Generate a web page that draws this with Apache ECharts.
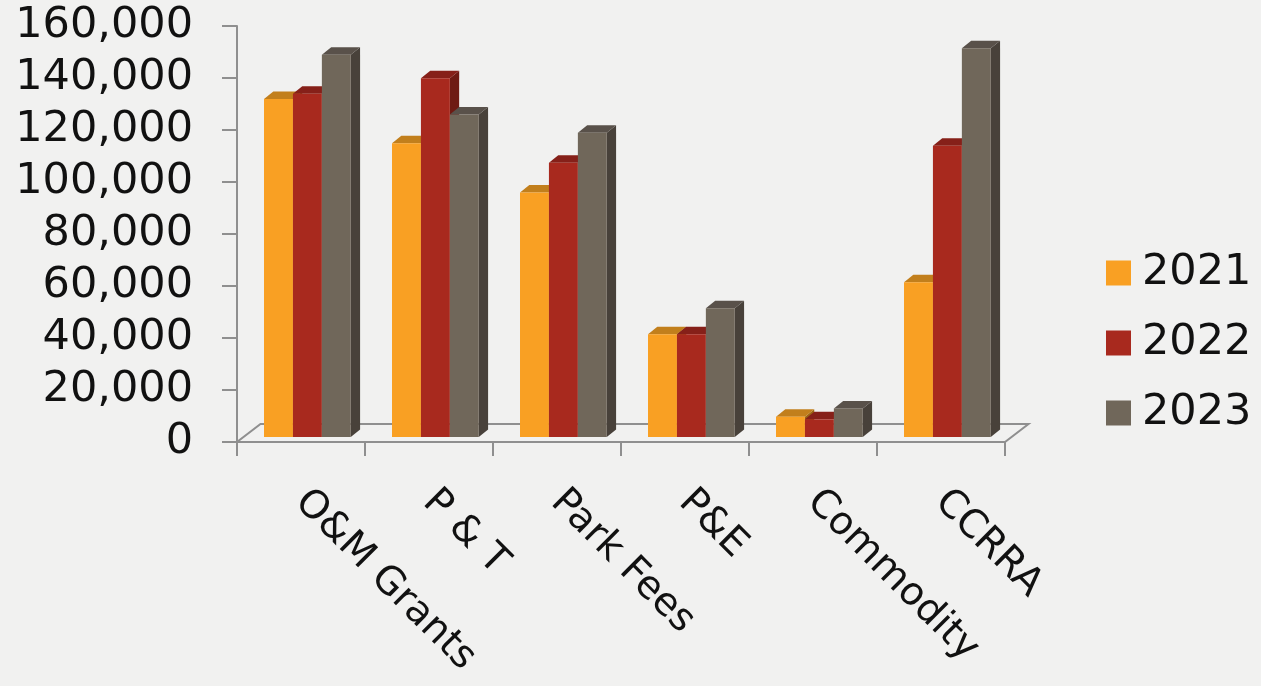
<!DOCTYPE html>
<html>
<head>
<meta charset="utf-8">
<script src="https://cdn.jsdelivr.net/npm/echarts@6/dist/echarts.min.js"></script>
<style>
  html, body { margin: 0; padding: 0; background: #f1f1f0; }
  #chart { width: 1261px; height: 686px; }
</style>
</head>
<body>
<div id="chart"></div>
<script>
// Funding sources by year
const categories = ['O&M Grants', 'P & T', 'Park Fees', 'P&E', 'Commodity', 'CCRRA'];
const years = ['2021', '2022', '2023'];
const values2021 = [130000, 113000, 94000, 39500, 7800, 59500];
const values2022 = [132000, 138000, 105500, 39500, 6800, 112000];
const values2023 = [147000, 124000, 117000, 49500, 11000, 149500];
const yTicks = { min: 0, max: 160000, interval: 20000 };

const seriesValues = [values2021, values2022, values2023];
// front, top, side shades for each year
const palette = [
  { front: '#f9a023', top: '#c27f1c', side: '#9c6514' },
  { front: '#a8291e', top: '#862019', side: '#6e1a13' },
  { front: '#70675a', top: '#59514a', side: '#48413a' }
];

const FONT = 'DejaVu Sans';
const AXIS_GREY = '#8f8f8f';

// pseudo-3D geometry, in pixels
const BAR_SHIFT = [6.4, -5];     // bar front plane behind the floor's front edge
const BAR_DEPTH = [9.3, -7.5];   // depth of each column
const FLOOR_DEPTH = [23.5, -18]; // depth of the floor
const GROUP_RATIO = 0.678;       // share of a category band covered by its columns

function barRenderer(idx) {
  const c = palette[idx];
  return function (params, api) {
    const cat = api.value(0);
    const top = api.coord([cat, api.value(1)]);
    const base = api.coord([cat, 0]);
    const band = api.size([1, 0])[0];
    const bw = band * GROUP_RATIO / 3;
    const x0 = top[0] + BAR_SHIFT[0] - 1.5 * bw + idx * bw;
    const x1 = x0 + bw;
    const yt = top[1] + BAR_SHIFT[1];
    const yb = base[1] + BAR_SHIFT[1];
    const dx = BAR_DEPTH[0], dy = BAR_DEPTH[1];
    return {
      type: 'group',
      children: [
        {
          type: 'polygon',
          z2: idx * 3,
          shape: { points: [[x1, yt], [x1 + dx, yt + dy], [x1 + dx, yb + dy], [x1, yb]] },
          style: { fill: c.side }
        },
        {
          type: 'polygon',
          z2: idx * 3 + 1,
          shape: { points: [[x0, yt], [x1, yt], [x1 + dx, yt + dy], [x0 + dx, yt + dy]] },
          style: { fill: c.top }
        },
        {
          type: 'rect',
          z2: idx * 3 + 2,
          shape: { x: x0, y: yt, width: bw, height: yb - yt },
          style: { fill: c.front }
        }
      ]
    };
  };
}

function floorRenderer(params) {
  const cs = params.coordSys;
  const l = cs.x, r = cs.x + cs.width, b = cs.y + cs.height;
  const dx = FLOOR_DEPTH[0], dy = FLOOR_DEPTH[1];
  return {
    type: 'polygon',
    shape: { points: [[l, b], [r, b], [r + dx, b + dy], [l + dx, b + dy]] },
    style: { fill: 'none', stroke: AXIS_GREY, lineWidth: 2 }
  };
}

const barSeries = years.map((y, i) => ({
  name: y,
  type: 'custom',
  z: 3,
  itemStyle: { color: palette[i].front },
  renderItem: barRenderer(i),
  encode: { x: 0, y: 1 },
  data: seriesValues[i].map((v, k) => [k, v])
}));

const chart = echarts.init(document.getElementById('chart'));
chart.setOption({
  backgroundColor: '#f1f1f0',
  animation: false,
  grid: { left: 237, right: 256, top: 26, bottom: 244, containLabel: false },
  legend: {
    data: years,
    orient: 'vertical',
    left: 1101,
    top: 243,
    icon: 'rect',
    itemWidth: 25,
    itemHeight: 25,
    itemGap: 20,
    textStyle: { fontFamily: FONT, fontSize: 43, color: '#111', lineHeight: 50, padding: [0, 0, 0, 6] }
  },
  xAxis: {
    type: 'category',
    data: categories,
    boundaryGap: true,
    axisLine: { show: true, lineStyle: { color: AXIS_GREY, width: 2 } },
    axisTick: { show: true, length: 14, lineStyle: { color: AXIS_GREY, width: 2 } },
    axisLabel: { interval: 0, rotate: -45, margin: 54, fontFamily: FONT, fontSize: 39, color: '#111' },
    splitLine: { show: false }
  },
  yAxis: {
    type: 'value',
    min: yTicks.min,
    max: yTicks.max,
    interval: yTicks.interval,
    axisLine: { show: true, lineStyle: { color: AXIS_GREY, width: 2 } },
    axisTick: { show: true, length: 15, lineStyle: { color: AXIS_GREY, width: 2 } },
    axisLabel: {
      margin: 44,
      fontFamily: FONT,
      fontSize: 43,
      color: '#111',
      formatter: v => v.toLocaleString('en-US')
    },
    splitLine: { show: false }
  },
  series: [
    {
      name: 'floor',
      type: 'custom',
      z: 1,
      silent: true,
      renderItem: floorRenderer,
      data: [[0, 0]]
    }
  ].concat(barSeries)
});
</script>
</body>
</html>
